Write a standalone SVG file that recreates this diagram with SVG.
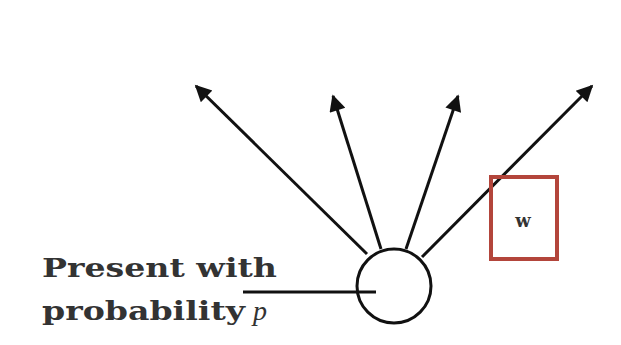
<svg xmlns="http://www.w3.org/2000/svg" width="621" height="345" viewBox="0 0 621 345">
<defs>
<style>
.edge{stroke:#111;stroke-width:3;fill:none}
.lbl{font-family:"DejaVu Serif","Liberation Serif",serif;font-weight:bold;fill:#333}
</style>
<marker id="ah" viewBox="0 0 10 10" refX="9" refY="5" markerWidth="7" markerHeight="5.5" orient="auto" markerUnits="strokeWidth">
<path d="M0,0 L10,5 L0,10 z" fill="#111"/>
</marker>
</defs>
<rect width="621" height="345" fill="#fff"/>
<g id="connectors">
<line class="edge" x1="367" y1="254" x2="196" y2="86" marker-end="url(#ah)"/>
<line class="edge" x1="381" y1="249" x2="333" y2="96" marker-end="url(#ah)"/>
<line class="edge" x1="406" y1="249" x2="458" y2="96" marker-end="url(#ah)"/>
<line class="edge" x1="422" y1="257" x2="592" y2="86" marker-end="url(#ah)"/>
<line class="edge" x1="243" y1="292" x2="376" y2="292"/>
</g>
<g id="neuron">
<circle cx="394" cy="286" r="37" fill="none" stroke="#111" stroke-width="3"/>
</g>
<g id="weight">
<rect x="491" y="177" width="66" height="82" fill="none" stroke="#b3453b" stroke-width="4"/>
<text x="523" y="227" text-anchor="middle" class="lbl" font-size="18">w</text>
</g>
<g id="label">
<text x="42" y="277" class="lbl" font-size="26" textLength="235" lengthAdjust="spacingAndGlyphs">Present with</text>
<text x="42" y="320" class="lbl" font-size="26" textLength="203" lengthAdjust="spacingAndGlyphs">probability</text>
<text x="253" y="320" font-family="'Liberation Serif',serif" font-style="italic" font-size="28" fill="#333">p</text>
</g>
</svg>
